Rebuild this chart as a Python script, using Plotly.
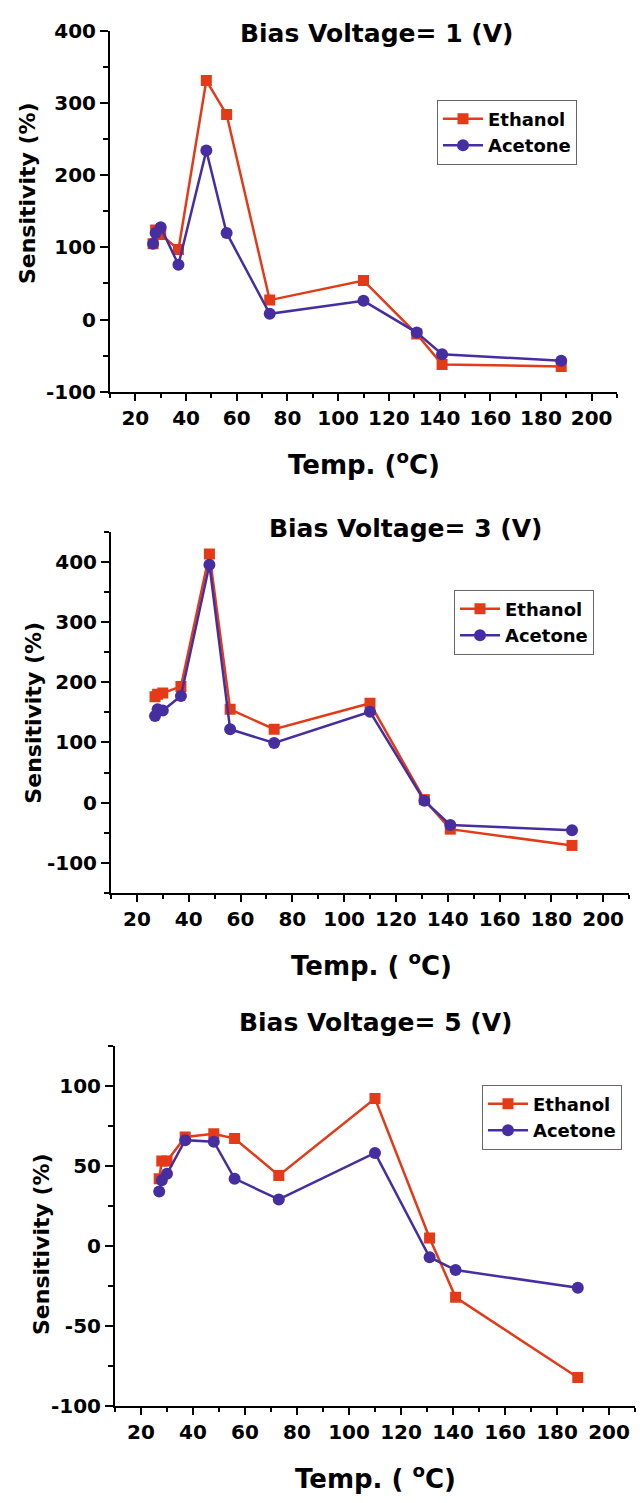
import plotly.graph_objects as go

temps = [27, 28, 30, 37, 48, 56, 73, 110, 131, 141, 188]

ethanol_1v = [105, 124, 118, 97, 331, 284, 27, 54, -20, -62, -65]
acetone_1v = [105, 120, 128, 76, 234, 120, 8, 26, -18, -48, -57]

ethanol_3v = [176, 180, 182, 193, 413, 155, 122, 165, 5, -44, -71]
acetone_3v = [144, 155, 153, 177, 395, 122, 99, 151, 3, -37, -46]

ethanol_5v = [42, 53, 53, 68, 70, 67, 44, 92, 5, -32, -82]
acetone_5v = [34, 41, 45, 66, 65, 42, 29, 58, -7, -15, -26]

x_tickvals = [20, 40, 60, 80, 100, 120, 140, 160, 180, 200]
y_tickvals_1v = [-100, 0, 100, 200, 300, 400]
y_tickvals_3v = [-100, 0, 100, 200, 300, 400]
y_tickvals_5v = [-100, -50, 0, 50, 100]

series_names = ["Ethanol", "Acetone"]
panel_titles = ["Bias Voltage= 1 (V)", "Bias Voltage= 3 (V)", "Bias Voltage= 5 (V)"]
x_titles = ["Temp. (<sup>o</sup>C)", "Temp. ( <sup>o</sup>C)", "Temp. ( <sup>o</sup>C)"]
y_title = "Sensitivity (%)"

W, H = 640, 1503
RED = "#E33B17"
PURPLE = "#472EA0"
FONT = "DejaVu Sans"


def px(v):
    return v / W


def py(v):
    return 1 - v / H


def lbl(v):
    return str(v)  # plain hyphen minus as in the original


panels = [
    dict(data=(ethanol_1v, acetone_1v), yticks=y_tickvals_1v, xdom=(110, 617), ytop=19, ybot=386,
         yr=(-100, 400), mdt=50, title=(376, 22), xt=(364, 458), yt=(27, 184), leg=(437, 89)),
    dict(data=(ethanol_3v, acetone_3v), yticks=y_tickvals_3v, xdom=(111, 629), ytop=528.1, ybot=895.3,
         yr=(-150, 450), mdt=50, title=(405, 525), xt=(371, 967), yt=(34, 712), leg=(454, 587)),
    dict(data=(ethanol_5v, acetone_5v), yticks=y_tickvals_5v, xdom=(115, 635), ytop=1050.3, ybot=1417,
         yr=(-100, 125), mdt=25, title=(375, 1027), xt=(375, 1489), yt=(41, 1252), leg=(482, 1090)),
]

fig = go.Figure()
annotations = []
layout = {}
for i, p in enumerate(panels):
    n = "" if i == 0 else str(i + 1)
    leg = "legend" + n
    for j, (vals, name, color, sym, size) in enumerate(zip(
            p["data"], series_names, [RED, PURPLE], ["square", "circle"], [11, 12])):
        fig.add_trace(go.Scatter(
            x=temps, y=vals, name=name, mode="lines+markers",
            line=dict(color=color, width=2.5),
            marker=dict(symbol=sym, size=size, color=color),
            xaxis="x" + n, yaxis="y" + n, legend=leg,
        ))
    layout["xaxis" + n] = dict(
        domain=[px(p["xdom"][0]), px(p["xdom"][1])], range=[10, 210], anchor="y" + n,
        showline=True, linewidth=2, linecolor="black", showgrid=False, zeroline=False,
        ticks="outside", ticklen=7, tickwidth=1.5, tickcolor="black",
        tickmode="array", tickvals=x_tickvals, ticktext=[lbl(v) for v in x_tickvals],
        ticklabelstandoff=0,
        tickfont=dict(family=FONT, size=20, color="black", weight="bold"),
        minor=dict(dtick=10, tick0=0, ticks="outside", ticklen=4, tickwidth=1.5, tickcolor="black"),
    )
    layout["yaxis" + n] = dict(
        domain=[py(p["ybot"]), py(p["ytop"])], range=list(p["yr"]), anchor="x" + n,
        showline=True, linewidth=2, linecolor="black", showgrid=False, zeroline=False,
        ticks="outside", ticklen=8, tickwidth=1.5, tickcolor="black",
        tickmode="array", tickvals=p["yticks"], ticktext=[lbl(v) for v in p["yticks"]],
        tickfont=dict(family=FONT, size=20, color="black", weight="bold"),
        minor=dict(dtick=p["mdt"], tick0=0, ticks="outside", ticklen=5, tickwidth=1.5, tickcolor="black"),
    )
    layout[leg] = dict(
        x=px(p["leg"][0]), y=py(p["leg"][1]), xanchor="left", yanchor="top",
        xref="paper", yref="paper",
        bordercolor="#666666", borderwidth=1, bgcolor="white",
        font=dict(family=FONT, size=18, color="black", weight="bold"),
        tracegroupgap=0, itemwidth=40,
    )
    annotations.append(dict(
        text=panel_titles[i], x=px(p["title"][0]), y=py(p["title"][1]), xref="paper", yref="paper",
        xanchor="center", yanchor="middle", showarrow=False,
        font=dict(family=FONT, size=25, color="black", weight="bold")))
    annotations.append(dict(
        text=x_titles[i], x=px(p["xt"][0]), y=py(p["xt"][1]), xref="paper", yref="paper",
        xanchor="center", yanchor="middle", showarrow=False,
        font=dict(family=FONT, size=26, color="black", weight="bold")))
    annotations.append(dict(
        text=y_title, x=px(p["yt"][0]), y=py(p["yt"][1]), xref="paper", yref="paper",
        xanchor="center", yanchor="middle", showarrow=False, textangle=-90,
        font=dict(family=FONT, size=22, color="black", weight="bold")))

fig.update_layout(
    width=W, height=H, margin=dict(l=0, r=0, t=0, b=0),
    paper_bgcolor="white", plot_bgcolor="white",
    annotations=annotations, **layout,
)
fig.write_html("out.html")
